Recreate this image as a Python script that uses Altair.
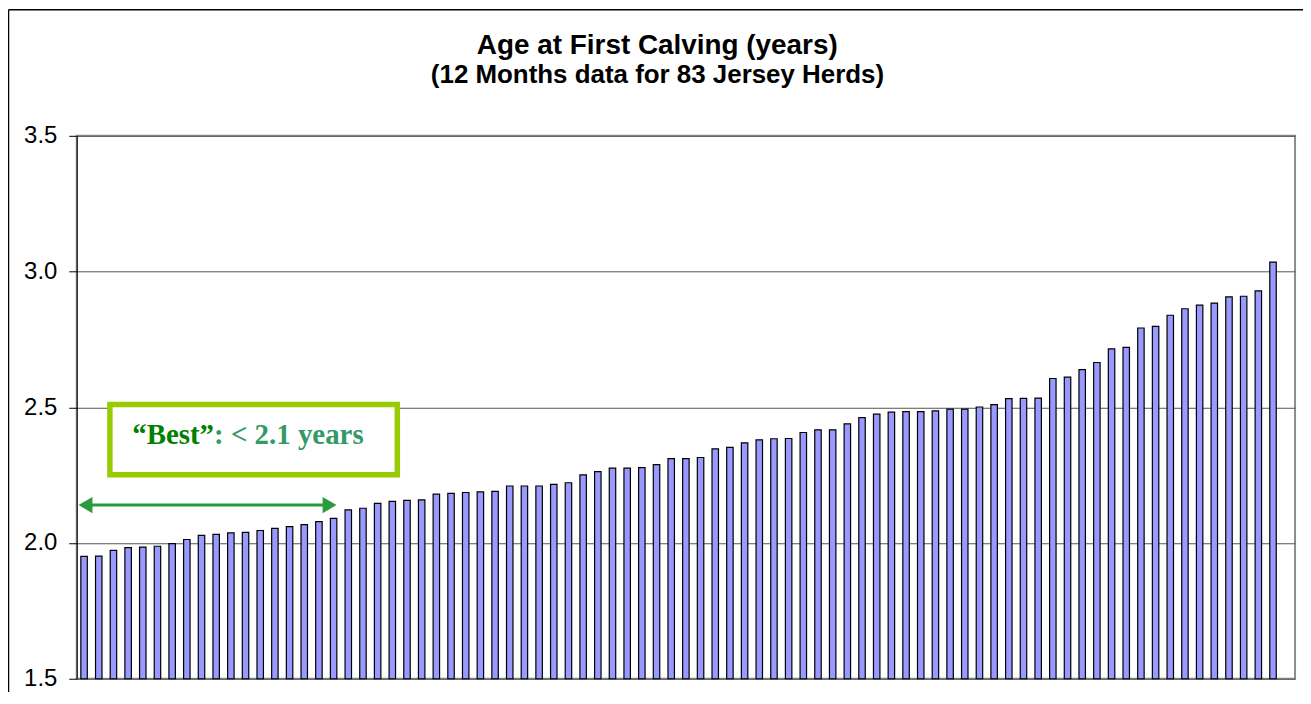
import altair as alt
import pandas as pd

herd_rank = list(range(1, 84))
age_first_calving = [
    1.951, 1.952, 1.973, 1.983, 1.985, 1.988, 1.998, 2.013, 2.028, 2.032,
    2.037, 2.039, 2.046, 2.054, 2.060, 2.068, 2.079, 2.091, 2.122, 2.128,
    2.146, 2.153, 2.157, 2.159, 2.180, 2.183, 2.186, 2.188, 2.190, 2.210,
    2.210, 2.210, 2.216, 2.222, 2.251, 2.263, 2.276, 2.276, 2.278, 2.289,
    2.311, 2.311, 2.315, 2.347, 2.352, 2.369, 2.380, 2.384, 2.385, 2.407,
    2.417, 2.417, 2.439, 2.462, 2.475, 2.482, 2.484, 2.484, 2.487, 2.493,
    2.493, 2.501, 2.510, 2.532, 2.533, 2.534, 2.606, 2.611, 2.639, 2.665,
    2.715, 2.721, 2.792, 2.798, 2.839, 2.863, 2.876, 2.884, 2.907, 2.909,
    2.929, 3.035, None,
]
y_ticks = [1.5, 2.0, 2.5, 3.0, 3.5]

title_text = "Age at First Calving (years)"
subtitle_text = "(12 Months data for 83 Jersey Herds)"
best_part1 = "\u201cBest\u201d"
best_part2 = ": < 2.1 years"

df = pd.DataFrame({"herd": herd_rank, "age": age_first_calving})
one = pd.DataFrame({"k": [0]})

W, H = 1223, 545

bars = alt.Chart(df).mark_bar(
    color="#9999FF", stroke="#000000", strokeWidth=1.2
).encode(
    x=alt.X("herd:O", axis=None,
            scale=alt.Scale(domain=herd_rank, paddingInner=0.56, paddingOuter=0.28)),
    y=alt.Y("age:Q",
            scale=alt.Scale(domain=[1.5, 3.5], nice=False, zero=False),
            axis=alt.Axis(values=y_ticks, format=".1f", title=None,
                          labelFont="Liberation Sans", labelFontSize=24,
                          labelColor="#000000", labelPadding=12,
                          tickSize=8, tickColor="#000000", tickWidth=1,
                          domainColor="#000000", domainWidth=1,
                          grid=True, gridColor="#555555", gridWidth=1)),
    y2=alt.datum(1.5),
)

base = alt.Chart(one)

box = base.mark_rect(fill="#ffffff", stroke="#99CC00", strokeWidth=5.5).encode(
    x=alt.value(33.3), x2=alt.value(321.8), y=alt.value(269.7), y2=alt.value(340.3)
)

txt1 = base.mark_text(
    text=best_part1, font="Liberation Serif", fontWeight="bold", fontSize=29,
    color="#008000", align="left", baseline="alphabetic"
).encode(x=alt.value(55.7), y=alt.value(309.3))

txt2 = base.mark_text(
    text=best_part2, font="Liberation Serif", fontWeight="bold", fontSize=29,
    color="#339966", align="left", baseline="alphabetic"
).encode(x=alt.value(137.9), y=alt.value(309.3))

arrow_color = "#2a9a3e"
shaft = base.mark_rule(color=arrow_color, strokeWidth=3).encode(
    x=alt.value(10), x2=alt.value(252), y=alt.value(370.7)
)
head_l = base.mark_point(shape="triangle-left", filled=True, size=260,
                         color=arrow_color, opacity=1).encode(
    x=alt.value(8.8), y=alt.value(370.7)
)
head_r = base.mark_point(shape="triangle-right", filled=True, size=260,
                         color=arrow_color, opacity=1).encode(
    x=alt.value(253.8), y=alt.value(370.7)
)

title = base.mark_text(
    text=title_text, font="Liberation Sans", fontWeight="bold", fontSize=28,
    color="#000000", align="center", baseline="alphabetic"
).encode(x=alt.value(582.8), y=alt.value(-81.7))

subtitle = base.mark_text(
    text=subtitle_text, font="Liberation Sans", fontWeight="bold", fontSize=26,
    color="#000000", align="center", baseline="alphabetic"
).encode(x=alt.value(583), y=alt.value(-53.3))

frame_top = base.mark_rule(color="#000000", strokeWidth=1.5).encode(
    x=alt.value(-68.5), x2=alt.value(W + 20), y=alt.value(-126.5)
)
frame_left = base.mark_rule(color="#000000", strokeWidth=1.5).encode(
    x=alt.value(-68.5), y=alt.value(-126.5), y2=alt.value(H + 20)
)

chart = alt.layer(
    bars, box, txt1, txt2, shaft, head_l, head_r, title, subtitle, frame_top, frame_left
).properties(
    width=W, height=H,
    autosize=alt.AutoSizeParams(type="none"),
    padding={"left": 69, "top": 127, "right": 8, "bottom": 12},
    background="#ffffff",
).configure_view(
    stroke="#8c8c8c", strokeWidth=2
)

chart.save("out.html", embed_options={"renderer": "svg", "actions": False})
